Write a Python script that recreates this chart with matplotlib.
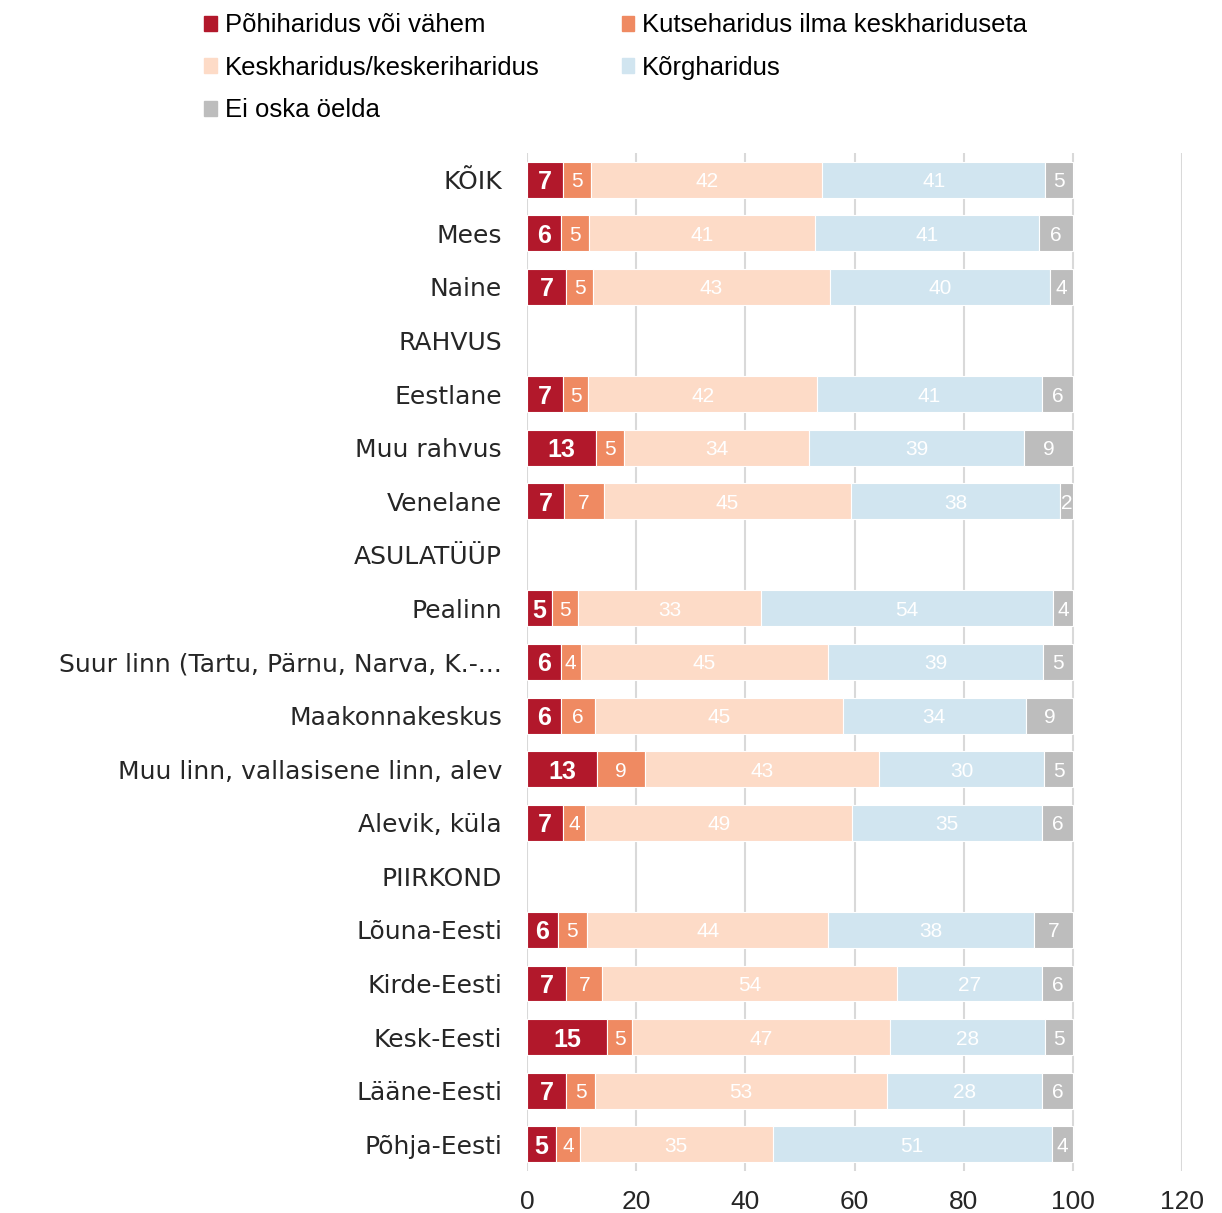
import numpy as np
import matplotlib.pyplot as plt
from matplotlib.patches import Patch

categories = ["KÕIK", "Mees", "Naine", "RAHVUS", "Eestlane", "Muu rahvus", "Venelane",
              "ASULATÜÜP", "Pealinn", "Suur linn (Tartu, Pärnu, Narva, K.-...",
              "Maakonnakeskus", "Muu linn, vallasisene linn, alev", "Alevik, küla",
              "PIIRKOND", "Lõuna-Eesti", "Kirde-Eesti", "Kesk-Eesti", "Lääne-Eesti",
              "Põhja-Eesti"]

series_names = ["Põhiharidus või vähem", "Kutseharidus ilma keskhariduseta",
                "Keskharidus/keskeriharidus", "Kõrgharidus", "Ei oska öelda"]

pohi  = [6.6, 6.2, 7.2, None, 6.6, 12.6, 6.8, None, 4.6, 6.2, 6.2, 12.8, 6.6, None, 5.6, 7.2, 14.7, 7.2, 5.3]
kutse = [5.1, 5.2, 4.9, None, 4.6, 5.1, 7.3, None, 4.8, 3.6, 6.3, 8.9, 4.1, None, 5.4, 6.6, 4.6, 5.3, 4.4]
kesk  = [42.4, 41.3, 43.4, None, 42.0, 34.0, 45.2, None, 33.4, 45.4, 45.3, 42.7, 48.8, None, 44.2, 53.9, 47.2, 53.4, 35.3]
korg  = [40.8, 41.1, 40.4, None, 41.1, 39.3, 38.4, None, 53.6, 39.4, 33.6, 30.4, 34.8, None, 37.6, 26.7, 28.4, 28.4, 51.1]
eio   = [5.1, 6.2, 4.1, None, 5.7, 9.0, 2.3, None, 3.6, 5.4, 8.6, 5.2, 5.7, None, 7.2, 5.6, 5.1, 5.7, 3.9]

colors = ["#B2182B", "#EF8A62", "#FDDBC7", "#D1E5F0", "#BDBDBD"]

data = [pohi, kutse, kesk, korg, eio]
rows = [i for i, v in enumerate(pohi) if v is not None]
ypos = np.array(rows)

fig = plt.figure(figsize=(12.22, 12.13), dpi=100)
ax = fig.add_axes([0.4313, 0.0346, 0.536, 0.8393])

left = np.zeros(len(rows))
for k, (name, vals, col) in enumerate(zip(series_names, data, colors)):
    w = np.array([vals[i] for i in rows])
    ax.barh(ypos, w, left=left, height=0.67, color=col,
            edgecolor="white", linewidth=0.8, label=name, zorder=3)
    for y, l, v in zip(ypos, left, w):
        if k == 0:
            ax.text(l + v / 2, y, f"{v:.0f}", ha="center", va="center_baseline",
                    color="white", fontsize=18, fontweight="bold",
                    family="Liberation Sans", zorder=4)
        else:
            ax.text(l + v / 2, y, f"{v:.0f}", ha="center", va="center_baseline",
                    color="white", fontsize=15, family="Liberation Sans", zorder=4)
    left = left + w

ax.set_xlim(0, 120)
ax.set_ylim(18.5, -0.5)
ax.set_xticks(np.arange(0, 121, 20))
ax.set_yticks(np.arange(len(categories)))
ax.set_yticklabels(categories, family="DejaVu Sans", fontsize=18, color="#262626")
for lab in ax.get_xticklabels():
    lab.set_family("Liberation Sans")
    lab.set_fontsize(19)
    lab.set_color("#262626")
ax.tick_params(axis="both", length=0)
ax.tick_params(axis="y", pad=18)
ax.tick_params(axis="x", pad=14)
ax.grid(axis="x", color="#D9D9D9", linewidth=1.5, zorder=0)
for s in ax.spines.values():
    s.set_visible(False)

handles = [Patch(color=c) for c in colors]
order = [0, 2, 4, 1, 3]
fig.legend([handles[i] for i in order], [series_names[i] for i in order],
           loc="upper left", bbox_to_anchor=(0.167, 0.989), ncol=2, frameon=False,
           handlelength=0.5, handleheight=0.5, handletextpad=0.3,
           columnspacing=3.2, labelspacing=0.72, borderpad=0, borderaxespad=0,
           prop={"family": "Liberation Sans", "size": 18.5})

fig.savefig("out.png", dpi=100)
